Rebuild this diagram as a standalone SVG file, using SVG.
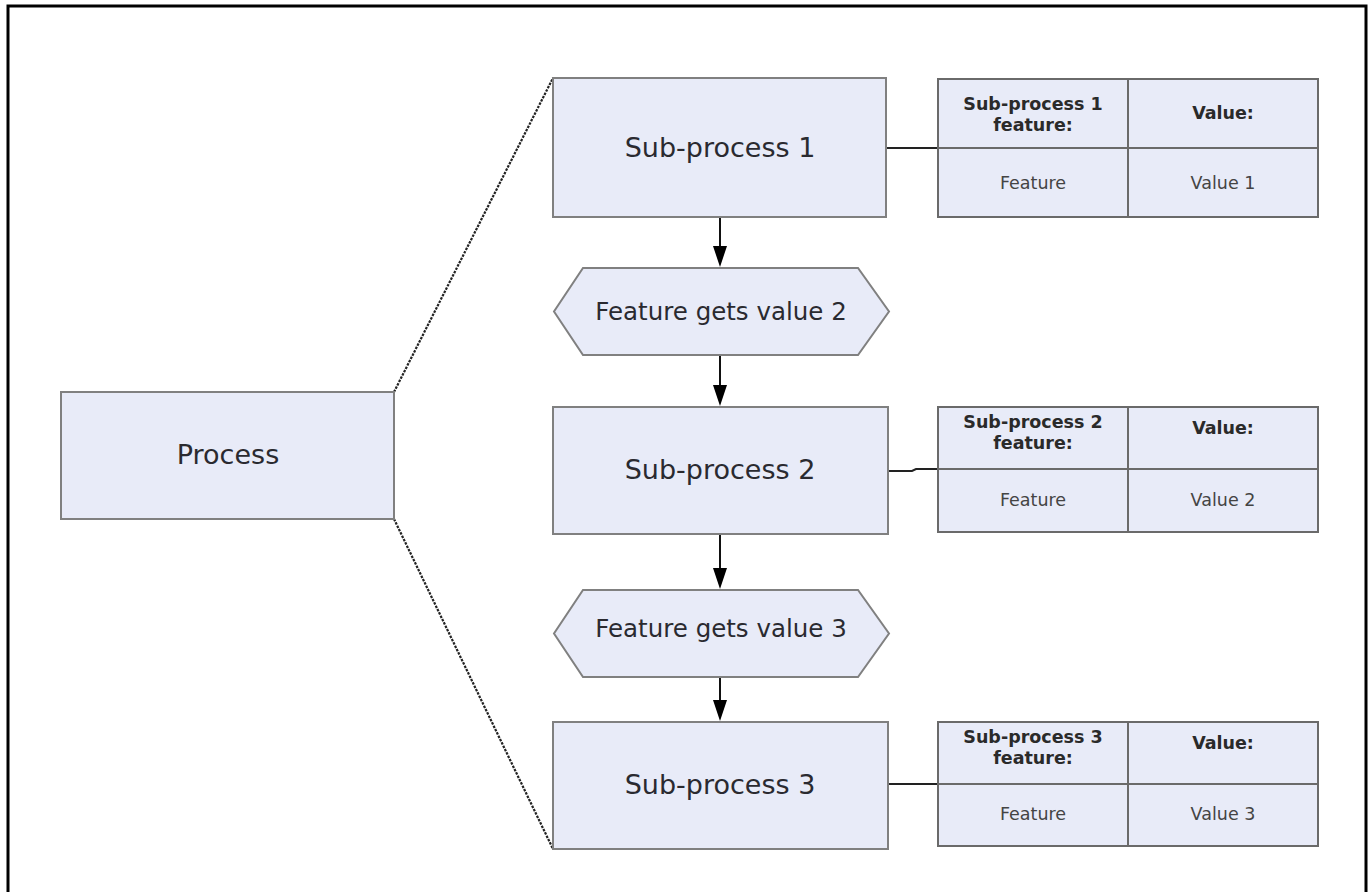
<svg xmlns="http://www.w3.org/2000/svg" width="1372" height="892" viewBox="0 0 1372 892">
  <style>
    .box { fill: #e8ebf8; stroke: #808080; stroke-width: 2; }
    .cell { fill: #e8ebf8; stroke: #6a6a6a; stroke-width: 2; }
    .lbl { font-family: "DejaVu Sans", Verdana, sans-serif; font-size: 27px; fill: #2a2a30; text-anchor: middle; }
    .hexlbl { font-family: "DejaVu Sans", Verdana, sans-serif; font-size: 24.5px; fill: #2a2a30; text-anchor: middle; }
    .th { font-family: "DejaVu Sans", Verdana, sans-serif; font-size: 17.5px; font-weight: bold; fill: #2a2a2a; text-anchor: middle; }
    .td { font-family: "DejaVu Sans", Verdana, sans-serif; font-size: 17.5px; fill: #444; text-anchor: middle; }
    .flow { stroke: #111; stroke-width: 2; fill: none; }
    .link { stroke: #222; stroke-width: 2; fill: none; }
    .zoom { stroke: #222; stroke-width: 2.2; stroke-dasharray: 2.5 1.2; fill: none; }
    .head { fill: #000; }
  </style>

  <rect x="0" y="0" width="1372" height="892" fill="#fff"/>
  <!-- page frame -->
  <rect x="8" y="6" width="1358" height="910" fill="none" stroke="#000" stroke-width="3"/>

  <g id="connectors">
    <!-- expansion lines from Process -->
    <line class="zoom" x1="394" y1="392" x2="553" y2="78"/>
    <line class="zoom" x1="394" y1="519" x2="553" y2="849"/>
    <!-- flow arrows -->
    <line class="flow" x1="720" y1="217" x2="720" y2="247"/>
    <path class="head" d="M713,246 L727,246 L720,267 Z"/>
    <line class="flow" x1="720" y1="355" x2="720" y2="386"/>
    <path class="head" d="M713,385 L727,385 L720,406 Z"/>
    <line class="flow" x1="720" y1="534" x2="720" y2="569"/>
    <path class="head" d="M713,568 L727,568 L720,589 Z"/>
    <line class="flow" x1="720" y1="677" x2="720" y2="701"/>
    <path class="head" d="M713,700 L727,700 L720,721 Z"/>
    <!-- links to feature tables -->
    <line class="link" x1="886" y1="148" x2="938" y2="148"/>
    <path class="link" d="M888,471 L912,471 L916,469 L938,469"/>
    <line class="link" x1="888" y1="784" x2="938" y2="784"/>
  </g>

  <g id="process">
    <rect class="box" x="61" y="392" width="333" height="127"/>
    <text class="lbl" x="228" y="464">Process</text>
  </g>

  <g id="subprocess1">
    <rect class="box" x="553" y="78" width="333" height="139"/>
    <text class="lbl" x="720" y="157">Sub-process 1</text>
  </g>

  <g id="gets-value-2">
    <polygon class="box" points="583,268 858,268 889,311.5 858,355 583,355 554,311.5"/>
    <text class="hexlbl" x="721" y="320">Feature gets value 2</text>
  </g>

  <g id="subprocess2">
    <rect class="box" x="553" y="407" width="335" height="127"/>
    <text class="lbl" x="720" y="479">Sub-process 2</text>
  </g>

  <g id="gets-value-3">
    <polygon class="box" points="583,590 858,590 889,633.5 858,677 583,677 554,633.5"/>
    <text class="hexlbl" x="721" y="637">Feature gets value 3</text>
  </g>

  <g id="subprocess3">
    <rect class="box" x="553" y="722" width="335" height="127"/>
    <text class="lbl" x="720" y="794">Sub-process 3</text>
  </g>

  <g id="table1">
    <rect class="cell" x="938" y="79" width="190" height="69"/>
    <rect class="cell" x="1128" y="79" width="190" height="69"/>
    <rect class="cell" x="938" y="148" width="190" height="69"/>
    <rect class="cell" x="1128" y="148" width="190" height="69"/>
    <text class="th" x="1033" y="110">Sub-process 1</text>
    <text class="th" x="1033" y="131">feature:</text>
    <text class="th" x="1223" y="119">Value:</text>
    <text class="td" x="1033" y="189">Feature</text>
    <text class="td" x="1223" y="189">Value 1</text>
  </g>

  <g id="table2">
    <rect class="cell" x="938" y="407" width="190" height="62"/>
    <rect class="cell" x="1128" y="407" width="190" height="62"/>
    <rect class="cell" x="938" y="469" width="190" height="63"/>
    <rect class="cell" x="1128" y="469" width="190" height="63"/>
    <text class="th" x="1033" y="428">Sub-process 2</text>
    <text class="th" x="1033" y="449">feature:</text>
    <text class="th" x="1223" y="434">Value:</text>
    <text class="td" x="1033" y="506">Feature</text>
    <text class="td" x="1223" y="506">Value 2</text>
  </g>

  <g id="table3">
    <rect class="cell" x="938" y="722" width="190" height="62"/>
    <rect class="cell" x="1128" y="722" width="190" height="62"/>
    <rect class="cell" x="938" y="784" width="190" height="62"/>
    <rect class="cell" x="1128" y="784" width="190" height="62"/>
    <text class="th" x="1033" y="743">Sub-process 3</text>
    <text class="th" x="1033" y="764">feature:</text>
    <text class="th" x="1223" y="749">Value:</text>
    <text class="td" x="1033" y="820">Feature</text>
    <text class="td" x="1223" y="820">Value 3</text>
  </g>
</svg>
